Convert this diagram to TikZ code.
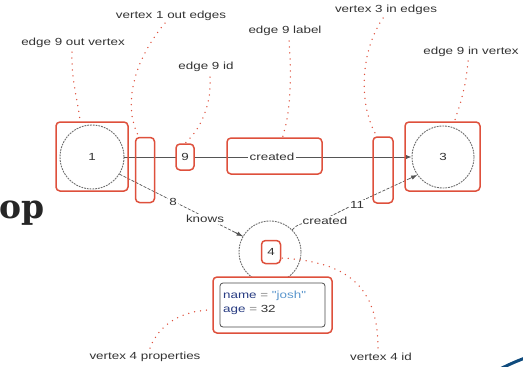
\documentclass[tikz,border=0pt]{standalone}
\usepackage{fontspec}
\setmainfont{Liberation Sans}
\newfontfamily\lblfont[FakeStretch=1.3]{Liberation Sans}
\newfontfamily\headfont{DejaVu Serif}
\usetikzlibrary{arrows.meta,calc}
\definecolor{callred}{RGB}{222,80,60}
\definecolor{edgegray}{RGB}{85,85,85}
\definecolor{keyblue}{RGB}{40,60,130}
\definecolor{valblue}{RGB}{90,150,205}
\definecolor{arcblue}{RGB}{15,75,125}
\begin{document}
\begin{tikzpicture}[x=1pt,y=-1pt,
  lbl/.style={font=\lblfont\fontsize{10.3}{11}\selectfont, text=black!80, inner sep=1pt},
  redbox/.style={draw=callred, line width=1.5pt, rounded corners=4pt, inner sep=0pt},
  vcircle/.style={circle, draw=gray!85!black, dash pattern=on 1.8pt off 1pt, line width=0.9pt, inner sep=0pt},
  callout/.style={draw=callred, line width=1.5pt, line cap=round, dash pattern=on 0pt off 6pt},
  edgeline/.style={draw=edgegray, line width=0.7pt},
  edgedash/.style={draw=edgegray, line width=0.7pt, dash pattern=on 3pt off 1.5pt},
  tip/.style={-{Latex[length=6pt,width=4.5pt]}},
]
\useasboundingbox (0,0) rectangle (523,367);

% heading fragment and decorative arc
\node[anchor=base west, inner sep=0pt, font=\headfont\bfseries\fontsize{33}{33}\selectfont, text=black!85] (head) at (-1,218) {op};
\draw[arcblue, line width=3pt] (500,369) .. controls (510,364) and (517,361) .. (525,358);

% vertices
\node[vcircle, minimum size=64pt, lbl] (v1) at (92,157) {1};
\node[vcircle, minimum size=62pt, lbl] (v3) at (443,157) {3};
\node[vcircle, minimum size=62pt] (v4) at (270,252) {};

% edge 9: 1 -> 3
\draw[edgeline, tip] (v1.east) -- (v3.west);
% edge 8: 1 -> 4
\draw[edgedash] (v1.-32) -- (v4.150);
\draw[edgeline, tip] ($(v4.150)!9pt!(v1.-32)$) -- (v4.150);
% edge 11: 4 -> 3
\coordinate (k11) at (325,219);
\coordinate (n11) at (357,203);
\draw[edgedash] (v4.45) .. controls (298,224) .. (k11) -- (n11) -- ($(v3.215)!9pt!(n11)$);
\draw[edgeline, tip] ($(v3.215)!9pt!(n11)$) -- (v3.215);

% edge labels
\node[lbl, fill=white] (e8num) at (173,202) {8};
\node[lbl, fill=white] (e8lab) at (205,219) {knows};
\node[lbl, fill=white] (e11lab) at (325,221) {created};
\node[lbl, fill=white] (e11num) at (357,205) {11};

% highlighted parts
\node[redbox, minimum width=72pt, minimum height=69pt] (v1box) at (92,156.5) {};
\node[redbox, minimum width=19pt, minimum height=65pt] (v1out) at (145,170) {};
\node[redbox, fill=white, minimum width=18pt, minimum height=26pt, lbl] (e9id) at (185,157) {9};
\node[lbl, fill=white, inner xsep=2pt] (e9txt) at (272,157) {created};
\node[redbox, minimum width=95pt, minimum height=36pt] (e9lab) at (274.5,156) {};
\node[redbox, minimum width=20pt, minimum height=66pt] (v3in) at (383,170) {};
\node[redbox, minimum width=75pt, minimum height=69pt] (v3box) at (442.5,156.5) {};
\node[redbox, minimum width=19pt, minimum height=23pt, lbl] (v4id) at (271,252) {4};

% vertex 4 properties
\node[redbox, fill=white, minimum width=119pt, minimum height=56pt] (propbox) at (272.5,305) {};
\node[draw=gray!60!black, line width=0.8pt, rounded corners=3pt, fill=white, minimum width=105pt, minimum height=44pt] (props) at (272.5,305) {};
\node[lbl, anchor=west, align=left, inner sep=0pt, font=\lblfont\fontsize{10.3}{14.5}\selectfont] (proptxt) at (223,303)
  {{\color{keyblue}name}{\color{gray}\ =\ }{\color{valblue}"josh"}\\
   {\color{keyblue}age}{\color{gray}\ =\ }{\color{black!80}32}};

% callout captions
\node[lbl] (c1) at (73,43) {edge 9 out vertex};
\node[lbl] (c2) at (171,16) {vertex 1 out edges};
\node[lbl] (c3) at (206,67) {edge 9 id};
\node[lbl] (c4) at (285,31) {edge 9 label};
\node[lbl] (c5) at (386,10) {vertex 3 in edges};
\node[lbl] (c6) at (471,52) {edge 9 in vertex};
\node[lbl] (c7) at (145,357) {vertex 4 properties};
\node[lbl] (c8) at (381,357) {vertex 4 id};

% callout leaders
\draw[callout] (72,52) .. controls (71,80) and (78,100) .. ($(v1box.north)+(-12,0)$);
\draw[callout] (165,23) .. controls (130,65) and (124,110) .. ($(v1out.north)+(-6,0)$);
\draw[callout] (210,77) .. controls (212,105) and (200,130) .. (e9id.north);
\draw[callout] (289,41) .. controls (292,80) and (290,115) .. ($(e9lab.north)+(8,0)$);
\draw[callout] (383,18) .. controls (358,55) and (360,110) .. ($(v3in.north)+(-6,0)$);
\draw[callout] (468,61) .. controls (466,90) and (458,110) .. ($(v3box.north)+(12,0)$);
\draw[callout] (150,348) .. controls (160,322) and (185,310) .. ($(propbox.west)+(0,5)$);
\draw[callout] ($(v4id.east)+(1,6)$) .. controls (340,262) and (378,280) .. (378,348);
\end{tikzpicture}
\end{document}
